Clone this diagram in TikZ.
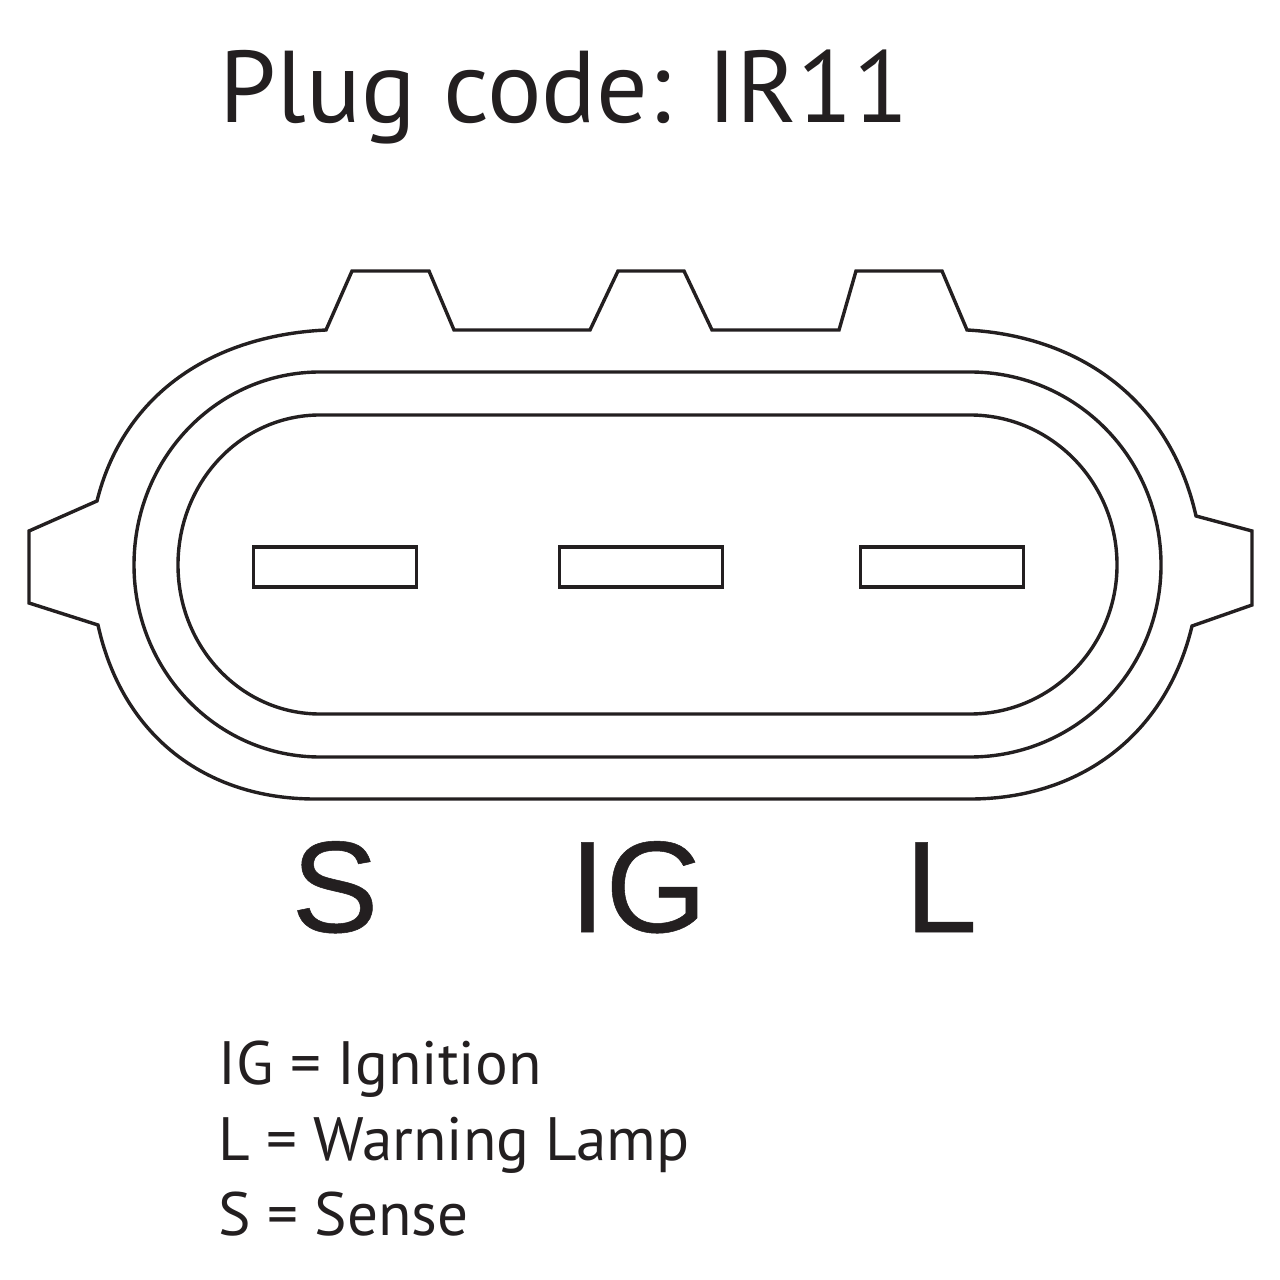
\documentclass[tikz,border=0pt]{standalone}
\usepackage{fontspec}
\setmainfont{PT Sans}
\newfontfamily\pinfont[FakeBold=0.4]{Liberation Sans}
\definecolor{ink}{HTML}{231F20}
\tikzstyle{outline}=[draw=ink,line width=0.34mm,line join=miter]
\tikzstyle{pin}=[rectangle,draw=ink,line width=0.34mm,minimum width=1.63cm,minimum height=0.40cm,inner sep=0pt]
\tikzstyle{pinlabel}=[text=ink,font=\pinfont\fontsize{37}{37}\selectfont,inner sep=0pt,anchor=base]
\tikzstyle{legend}=[text=ink,font=\fontsize{17.4}{17.4}\selectfont,inner sep=0pt,anchor=base west]

\begin{document}
\begin{tikzpicture}[x=0.01cm,y=-0.01cm]
	\useasboundingbox (0,0) rectangle (1280,1280);

	% Title
	\node[text=ink,font=\fontsize{29}{29}\selectfont,inner sep=0pt,anchor=base west] (title) at (219,123) {Plug code: IR11};

	% Housing
	\draw[outline] (326,330) -- (352,271) -- (429,271) -- (454,330) -- (590,330) -- (618,271) -- (684,271) -- (712,330) -- (839,330) -- (856,271) -- (942,271) -- (967,330)
		.. controls (1080,336) and (1170,400) .. (1196,516) -- (1252,531) -- (1252,605) -- (1192,626)
		.. controls (1166,735) and (1080,799) .. (970,799) -- (315,799)
		.. controls (205,799) and (122,735) .. (98,625) -- (29,603) -- (29,531) -- (97,501)
		.. controls (122,400) and (205,336) .. (326,330) -- cycle;
	\draw[outline] (320,372) -- (970,372) .. controls (1076,372) and (1161,458) .. (1161,565) .. controls (1161,671) and (1076,757) .. (970,757) -- (320,757)
		.. controls (217,757) and (134,671) .. (134,565) .. controls (134,458) and (217,372) .. (320,372) -- cycle;
	\draw[outline] (320,415) -- (970,415) .. controls (1051,415) and (1117,482) .. (1117,565) .. controls (1117,647) and (1051,714) .. (970,714) -- (320,714)
		.. controls (241,714) and (178,647) .. (178,565) .. controls (178,482) and (241,415) .. (320,415) -- cycle;

	% Pins
	\node[pin] (pinS) at (335,567) {};
	\node[pin] (pinIG) at (641,567) {};
	\node[pin] (pinL) at (942,567) {};

	\node[pinlabel] (labelS) at (335,932) {S};
	\node[pinlabel] (labelIG) at (638,932) {IG};
	\node[pinlabel] (labelL) at (941,932) {L};

	% Key
	\node[legend] (keyIG) at (218,1084) {IG = Ignition};
	\node[legend] (keyL) at (218,1160) {L = Warning Lamp};
	\node[legend] (keyS) at (218,1235) {S = Sense};
\end{tikzpicture}
\end{document}
